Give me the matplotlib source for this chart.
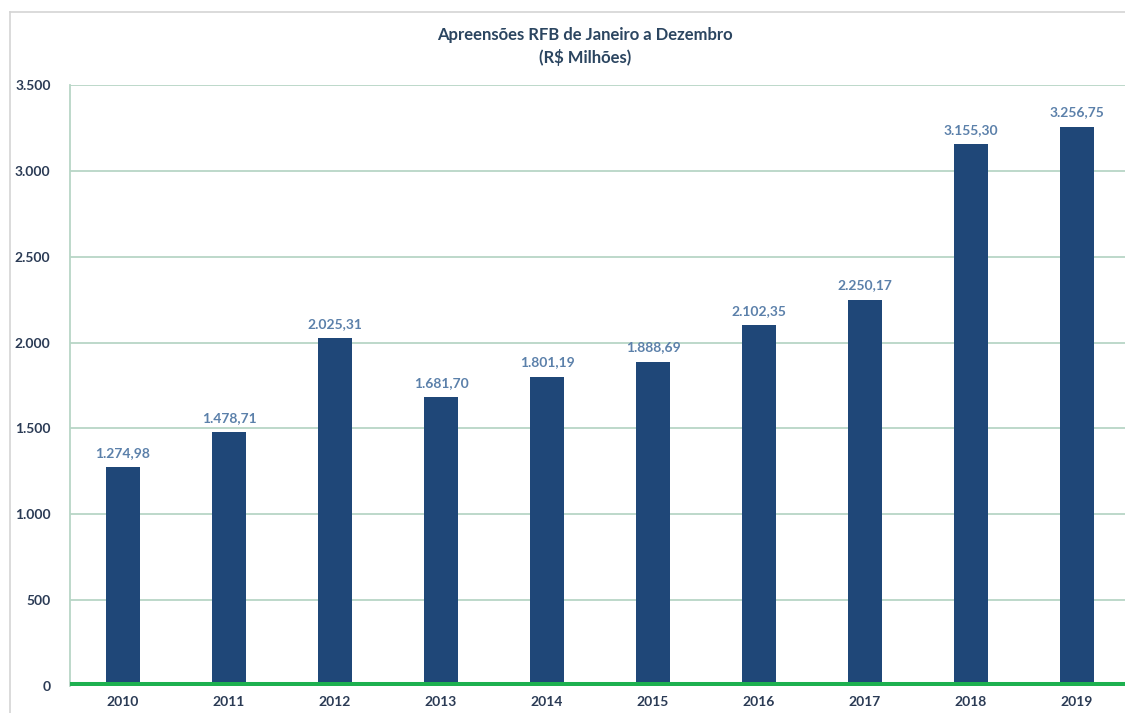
import matplotlib
matplotlib.use("Agg")
import matplotlib.pyplot as plt
from matplotlib.lines import Line2D

years = ["2010", "2011", "2012", "2013", "2014", "2015", "2016", "2017", "2018", "2019"]
values = [1274.98, 1478.71, 2025.31, 1681.70, 1801.19, 1888.69, 2102.35, 2250.17, 3155.30, 3256.75]
yticks = [0, 500, 1000, 1500, 2000, 2500, 3000, 3500]
ytick_labels = ["0", "500", "1.000", "1.500", "2.000", "2.500", "3.000", "3.500"]

def br(v):
    s = f"{v:,.2f}"
    return s.replace(",", "X").replace(".", ",").replace("X", ".")

plt.rcParams['font.family'] = ['Lato', 'DejaVu Sans']

W, H = 1125, 713
fig = plt.figure(figsize=(W/100, H/100), dpi=100)
fig.patch.set_facecolor("white")

ax = fig.add_axes([70/W, (H-686)/H, (1130-70)/W, (686-85)/H])
x = list(range(len(years)))
bars = ax.bar(x, values, width=0.32, color="#1f4778", zorder=3)
ax.set_xlim(-0.5, 9.5)
ax.set_ylim(0, 3500)
ax.set_yticks(yticks)
ax.set_yticklabels(ytick_labels)
ax.set_xticks(x)
ax.set_xticklabels(years)
ax.tick_params(axis='both', length=0, labelsize=10, colors="#2b3b55")
for lab in ax.get_xticklabels() + ax.get_yticklabels():
    lab.set_fontweight("bold")
ax.tick_params(axis='y', pad=14)
ax.tick_params(axis='x', pad=7)
ax.grid(axis='y', color="#b7d6c6", linewidth=1.3, zorder=0)
for s in ["top", "right", "bottom"]:
    ax.spines[s].set_visible(False)
ax.spines["left"].set_color("#b7d6c6")
ax.spines["left"].set_linewidth(1.3)
ax.axhline(0, color="#1db04f", linewidth=6.5, zorder=4)

for xi, v in zip(x, values):
    ax.annotate(br(v), (xi, v), xytext=(0, 6), textcoords="offset points",
                ha="center", va="bottom", fontsize=10, color="#5b80aa", fontweight="bold")

fig.text(585/W, 1-35/H, "Apreensões RFB de Janeiro a Dezembro", ha="center", va="center",
         fontsize=12, fontweight="bold", color="#2b4560")
fig.text(585/W, 1-58/H, "(R$ Milhões)", ha="center", va="center",
         fontsize=12, fontweight="bold", color="#2b4560")

# Chart frame border (top and left)
fig.add_artist(Line2D([10/W, 1], [1-12/H, 1-12/H], color="#d4d4d4", linewidth=1.2))
fig.add_artist(Line2D([10/W, 10/W], [0, 1-12/H], color="#d4d4d4", linewidth=1.2))

fig.savefig("out.png", dpi=100)
